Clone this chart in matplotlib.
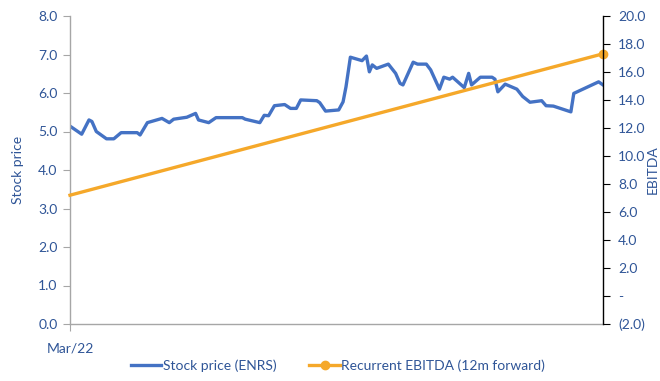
import matplotlib
matplotlib.use("Agg")
import matplotlib.pyplot as plt
from matplotlib.ticker import FuncFormatter, FixedLocator
from matplotlib.lines import Line2D

plt.rcParams['font.family'] = ['Lato', 'DejaVu Sans']

# Stock price (ENRS), days since start of Mar/22
price_days = [0, 8, 13, 15, 18, 25, 30, 35, 46, 48, 53, 63, 68, 71, 80, 86, 88,
              95, 100, 118, 120, 130, 133, 136, 140, 147, 151, 155, 158, 169, 171,
              175, 184, 187, 189, 192, 200, 203, 205, 207, 210, 218, 223, 226, 228,
              235, 238, 244, 247, 253, 256, 260, 262, 270, 273, 275, 281, 289, 291,
              293, 298, 306, 310, 315, 323, 326, 331, 343, 345, 362, 365]
price = [5.14, 4.93, 5.30, 5.26, 5.00, 4.81, 4.81, 4.97, 4.97, 4.91, 5.23, 5.34,
         5.23, 5.32, 5.37, 5.47, 5.30, 5.23, 5.36, 5.36, 5.32, 5.23, 5.42, 5.41,
         5.67, 5.70, 5.60, 5.60, 5.82, 5.80, 5.75, 5.53, 5.56, 5.77, 6.16, 6.93,
         6.84, 6.96, 6.55, 6.73, 6.64, 6.75, 6.51, 6.25, 6.21, 6.80, 6.75, 6.75,
         6.60, 6.10, 6.41, 6.36, 6.41, 6.14, 6.51, 6.21, 6.41, 6.41, 6.36, 6.03,
         6.23, 6.10, 5.91, 5.76, 5.80, 5.67, 5.66, 5.51, 5.99, 6.29, 6.21]

# Recurrent EBITDA (12m forward)
ebitda_days = [0, 365]
ebitda = [7.2, 17.3]

x_tick_pos = [0]
x_tick_labels = ["Mar/22"]

BLUE = "#4472C4"
ORANGE = "#F5A82A"
TEXT = "#2F5597"

fig = plt.figure(figsize=(6.6, 3.81), dpi=100)
ax = fig.add_axes([70 / 660, (381 - 324) / 381, 533 / 660, 308 / 381])
ax2 = ax.twinx()

ax.plot(price_days, price, color=BLUE, lw=2.4, solid_joinstyle="round")
ax2.plot(ebitda_days, ebitda, color=ORANGE, lw=2.4, marker="o", markersize=6,
         markevery=[1], clip_on=False)

ax.set_xlim(0, 365)
ax.set_ylim(0, 8)
ax2.set_ylim(-2, 20)
ax.set_yticks([i for i in range(0, 9)])
ax.yaxis.set_major_formatter(FuncFormatter(lambda v, p: f"{v:.1f}"))
ax2.yaxis.set_major_locator(FixedLocator(list(range(-2, 21, 2))))


def fmt_right(v, p):
    if abs(v) < 1e-9:
        return "-"
    if v < 0:
        return f"({abs(v):.1f})"
    return f"{v:.1f}"


ax2.yaxis.set_major_formatter(FuncFormatter(fmt_right))
ax.set_xticks(x_tick_pos)
ax.set_xticklabels(x_tick_labels)

for spine in ["top", "right"]:
    ax.spines[spine].set_visible(False)
for spine in ["top", "left", "bottom"]:
    ax2.spines[spine].set_visible(False)
ax.spines["left"].set_color("#A6A6A6")
ax.spines["bottom"].set_color("#A6A6A6")
ax.spines["left"].set_linewidth(1.0)
ax.spines["bottom"].set_linewidth(1.0)
ax2.spines["right"].set_color("black")
ax2.spines["right"].set_linewidth(1.0)

ax.tick_params(axis="y", colors="#A6A6A6", labelcolor=TEXT, labelsize=10,
               length=5, pad=4)
ax.tick_params(axis="x", colors="#A6A6A6", labelcolor=TEXT, labelsize=10,
               length=5, pad=8)
ax2.tick_params(axis="y", colors="black", labelcolor=TEXT, labelsize=10,
                length=5, pad=6)

ax.set_ylabel("Stock price", color=TEXT, fontsize=10, labelpad=10)
ax2.set_ylabel("EBITDA", color=TEXT, fontsize=10, labelpad=1)

handles = [
    Line2D([], [], color=BLUE, lw=2.4),
    Line2D([], [], color=ORANGE, lw=2.4, marker="o", markersize=6),
]
fig.legend(handles, ["Stock price (ENRS)", "Recurrent EBITDA (12m forward)"],
           loc="lower center", bbox_to_anchor=(0.512, -0.01), ncol=2,
           frameon=False, fontsize=10, labelcolor=TEXT, handlelength=2.2,
           handletextpad=0.1, columnspacing=2.4)

fig.savefig("out.png", dpi=100)
